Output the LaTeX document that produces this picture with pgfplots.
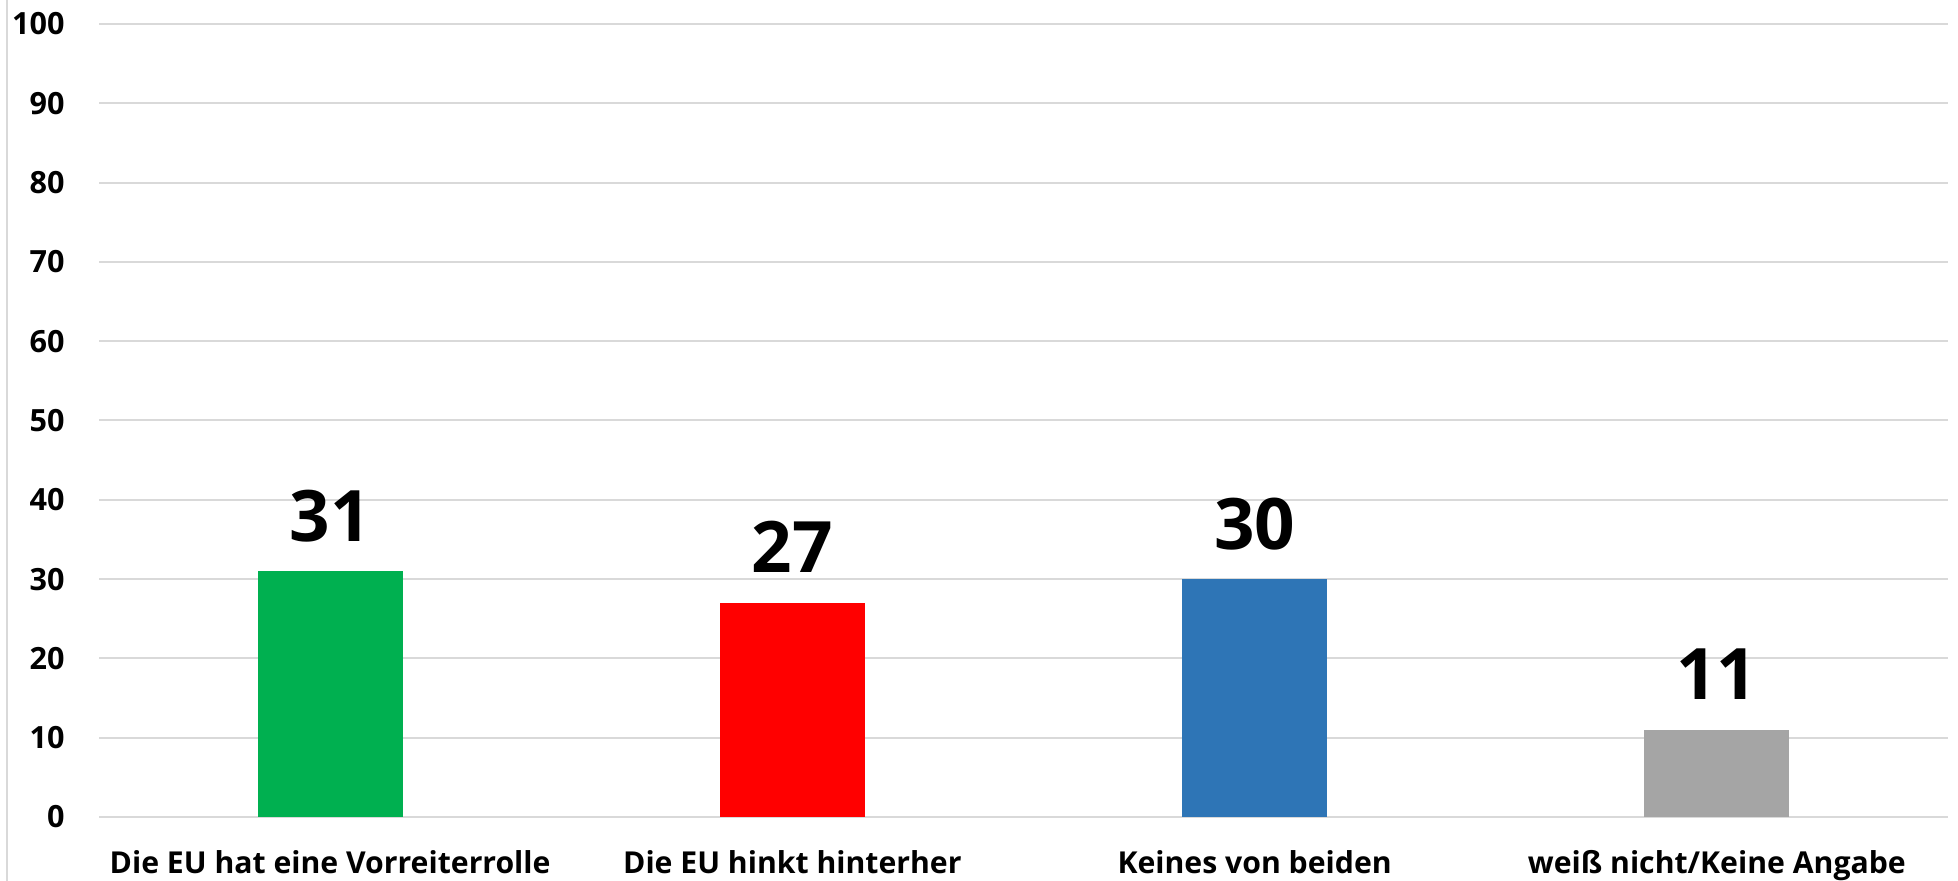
\documentclass[border=0pt]{standalone}
\usepackage{fontspec}
\setmainfont{Open Sans}
\usepackage{pgfplots}
\pgfplotsset{compat=1.18}
\definecolor{cgreen}{RGB}{0,176,80}
\definecolor{cred}{RGB}{255,0,0}
\definecolor{cblue}{RGB}{46,117,182}
\definecolor{cgray}{RGB}{165,165,165}
\definecolor{gridgray}{RGB}{217,217,217}
\begin{document}
\begin{tikzpicture}
\path[use as bounding box] (-49.5pt,-32pt) rectangle (929.5pt,408.5pt);
\draw[gridgray, line width=1pt] (-46pt,-32pt) -- (-46pt,408.5pt);
\begin{axis}[
  at={(0pt,0pt)}, anchor=south west,
  scale only axis, width=924.5pt, height=396.5pt,
  ymin=0, ymax=100, ytick={0,10,...,100},
  xmin=-0.5, xmax=3.5, xtick={0,1,2,3},
  xticklabels={Die EU hat eine Vorreiterrolle, Die EU hinkt hinterher, Keines von beiden, weiß nicht/Keine Angabe},
  ymajorgrids, grid style={gridgray, line width=1pt},
  axis line style={draw=none}, major tick length=0pt,
  /pgf/number format/assume math mode=true,
  yticklabel style={font=\bfseries\fontsize{15.3}{18}\selectfont, anchor=east, inner sep=0pt, xshift=-17pt},
  xticklabel style={font=\bfseries\fontsize{15.1}{18}\selectfont, anchor=base, inner sep=0pt, yshift=-28.5pt},
  ybar, bar width=72.5pt,
  nodes near coords,
  every node near coord/.append style={font=\bfseries\fontsize{35.5}{40}\selectfont, anchor=base, inner sep=0pt, yshift=15pt, black},
]
\addplot[fill=cgreen, draw=none, bar shift=0pt] coordinates {(0,31)};
\addplot[fill=cred, draw=none, bar shift=0pt] coordinates {(1,27)};
\addplot[fill=cblue, draw=none, bar shift=0pt] coordinates {(2,30)};
\addplot[fill=cgray, draw=none, bar shift=0pt] coordinates {(3,11)};
\end{axis}
\end{tikzpicture}
\end{document}
